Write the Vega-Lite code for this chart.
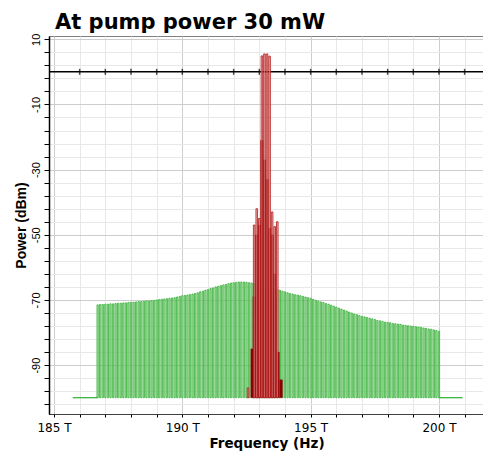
{
  "$schema": "https://vega.github.io/schema/vega-lite/v6.json",
  "width": 435,
  "height": 378,
  "autosize": "none",
  "padding": {"left": 49, "top": 36, "right": 0, "bottom": 40},
  "background": "white",
  "title": {
    "text": "At pump power 30 mW",
    "anchor": "start",
    "frame": "group",
    "font": "DejaVu Sans",
    "fontWeight": "bold",
    "fontSize": 21,
    "color": "black",
    "dx": 6,
    "dy": 25,
    "offset": 8,
    "baseline": "alphabetic"
  },
  "config": {
    "view": {"stroke": "black", "strokeDash": [1, 1], "strokeWidth": 1},
    "axis": {
      "labelColor": "black",
      "titleColor": "black",
      "tickColor": "black",
      "domainColor": "black",
      "labelOverlap": false,
      "labelFlush": false,
      "grid": true,
      "tickCount": 200
    }
  },
  "datasets": {
    "floor": [
      {"f0": 185.73, "f1": 186.7},
      {"f0": 200.0, "f1": 200.92}
    ],
    "zeroLine": [{"p": 0}],
    "zeroTicks": [
      {"f": 186}, {"f": 187}, {"f": 188}, {"f": 189}, {"f": 190}, {"f": 191}, {"f": 192}, {"f": 193},
      {"f": 194}, {"f": 195}, {"f": 196}, {"f": 197}, {"f": 198}, {"f": 199}, {"f": 200}, {"f": 201}
    ],
    "wdm": [
      {"f": 186.7, "p": -71.5}, {"f": 186.8, "p": -71.4}, {"f": 186.9, "p": -71.4}, {"f": 187.0, "p": -71.3},
      {"f": 187.1, "p": -71.3}, {"f": 187.2, "p": -71.2}, {"f": 187.3, "p": -71.2}, {"f": 187.4, "p": -71.1},
      {"f": 187.5, "p": -71.0}, {"f": 187.6, "p": -71.0}, {"f": 187.7, "p": -70.9}, {"f": 187.8, "p": -70.9},
      {"f": 187.9, "p": -70.8}, {"f": 188.0, "p": -70.7}, {"f": 188.1, "p": -70.7}, {"f": 188.2, "p": -70.6},
      {"f": 188.3, "p": -70.5}, {"f": 188.4, "p": -70.5}, {"f": 188.5, "p": -70.4}, {"f": 188.6, "p": -70.3},
      {"f": 188.7, "p": -70.3}, {"f": 188.8, "p": -70.2}, {"f": 188.9, "p": -70.1}, {"f": 189.0, "p": -70.0},
      {"f": 189.1, "p": -69.9}, {"f": 189.2, "p": -69.8}, {"f": 189.3, "p": -69.7}, {"f": 189.4, "p": -69.6},
      {"f": 189.5, "p": -69.5}, {"f": 189.6, "p": -69.4}, {"f": 189.7, "p": -69.3}, {"f": 189.8, "p": -69.1},
      {"f": 189.9, "p": -68.9}, {"f": 190.0, "p": -68.7}, {"f": 190.1, "p": -68.6}, {"f": 190.2, "p": -68.5},
      {"f": 190.3, "p": -68.3}, {"f": 190.4, "p": -68.2}, {"f": 190.5, "p": -68.0}, {"f": 190.6, "p": -67.8},
      {"f": 190.7, "p": -67.5}, {"f": 190.8, "p": -67.3}, {"f": 190.9, "p": -67.0}, {"f": 191.0, "p": -66.8},
      {"f": 191.1, "p": -66.5}, {"f": 191.2, "p": -66.3}, {"f": 191.3, "p": -66.0}, {"f": 191.4, "p": -65.8},
      {"f": 191.5, "p": -65.6}, {"f": 191.6, "p": -65.4}, {"f": 191.7, "p": -65.2}, {"f": 191.8, "p": -65.0},
      {"f": 191.9, "p": -64.8}, {"f": 192.0, "p": -64.7}, {"f": 192.1, "p": -64.6}, {"f": 192.2, "p": -64.5},
      {"f": 192.3, "p": -64.5}, {"f": 192.4, "p": -64.5}, {"f": 192.5, "p": -64.6}, {"f": 192.6, "p": -64.7},
      {"f": 192.7, "p": -64.8}, {"f": 192.8, "p": -65.0}, {"f": 192.9, "p": -65.1}, {"f": 193.0, "p": -65.3},
      {"f": 193.1, "p": -65.5}, {"f": 193.2, "p": -65.7}, {"f": 193.3, "p": -65.9}, {"f": 193.4, "p": -66.2},
      {"f": 193.5, "p": -66.4}, {"f": 193.6, "p": -66.6}, {"f": 193.7, "p": -66.8}, {"f": 193.8, "p": -67.0},
      {"f": 193.9, "p": -67.3}, {"f": 194.0, "p": -67.5}, {"f": 194.1, "p": -67.8}, {"f": 194.2, "p": -68.0},
      {"f": 194.3, "p": -68.2}, {"f": 194.4, "p": -68.4}, {"f": 194.5, "p": -68.5}, {"f": 194.6, "p": -68.7},
      {"f": 194.7, "p": -68.9}, {"f": 194.8, "p": -69.1}, {"f": 194.9, "p": -69.3}, {"f": 195.0, "p": -69.5},
      {"f": 195.1, "p": -69.8}, {"f": 195.2, "p": -70.1}, {"f": 195.3, "p": -70.4}, {"f": 195.4, "p": -70.6},
      {"f": 195.5, "p": -70.8}, {"f": 195.6, "p": -71.1}, {"f": 195.7, "p": -71.3}, {"f": 195.8, "p": -71.6},
      {"f": 195.9, "p": -71.9}, {"f": 196.0, "p": -72.2}, {"f": 196.1, "p": -72.5}, {"f": 196.2, "p": -72.8},
      {"f": 196.3, "p": -73.1}, {"f": 196.4, "p": -73.4}, {"f": 196.5, "p": -73.7}, {"f": 196.6, "p": -74.0},
      {"f": 196.7, "p": -74.3}, {"f": 196.8, "p": -74.5}, {"f": 196.9, "p": -74.8}, {"f": 197.0, "p": -75.0},
      {"f": 197.1, "p": -75.2}, {"f": 197.2, "p": -75.4}, {"f": 197.3, "p": -75.6}, {"f": 197.4, "p": -75.8},
      {"f": 197.5, "p": -76.0}, {"f": 197.6, "p": -76.3}, {"f": 197.7, "p": -76.4}, {"f": 197.8, "p": -76.6},
      {"f": 197.9, "p": -76.8}, {"f": 198.0, "p": -76.9}, {"f": 198.1, "p": -77.0}, {"f": 198.2, "p": -77.2},
      {"f": 198.3, "p": -77.3}, {"f": 198.4, "p": -77.4}, {"f": 198.5, "p": -77.5}, {"f": 198.6, "p": -77.7},
      {"f": 198.7, "p": -77.8}, {"f": 198.8, "p": -77.9}, {"f": 198.9, "p": -78.0}, {"f": 199.0, "p": -78.1},
      {"f": 199.1, "p": -78.2}, {"f": 199.2, "p": -78.3}, {"f": 199.3, "p": -78.4}, {"f": 199.4, "p": -78.6},
      {"f": 199.5, "p": -78.7}, {"f": 199.6, "p": -78.9}, {"f": 199.7, "p": -79.0}, {"f": 199.8, "p": -79.2},
      {"f": 199.9, "p": -79.4}, {"f": 200.0, "p": -79.6}
    ],
    "pumpBase": [
      {"f": 192.72, "p": -85},
      {"f": 192.8, "p": -69},
      {"f": 192.9, "p": -50},
      {"f": 193.0, "p": -47},
      {"f": 193.1, "p": -21},
      {"f": 193.2, "p": -27},
      {"f": 193.3, "p": -33},
      {"f": 193.4, "p": -48},
      {"f": 193.5, "p": -50},
      {"f": 193.6, "p": -62},
      {"f": 193.73, "p": -86},
      {"f": 193.85, "p": -94.5}
    ],
    "pumpPeaks": [
      {"f": 192.56, "p": -97},
      {"f": 192.8, "p": -47},
      {"f": 192.9, "p": -42},
      {"f": 193.0, "p": -45},
      {"f": 193.1, "p": 4.9},
      {"f": 193.2, "p": 5.5},
      {"f": 193.3, "p": 5.5},
      {"f": 193.4, "p": 4.8},
      {"f": 193.5, "p": -43},
      {"f": 193.6, "p": -47.5},
      {"f": 193.7, "p": -46}
    ]
  },
  "layer": [
    {
      "data": {"name": "floor"},
      "mark": {"type": "rule", "color": "#2eae2e", "strokeWidth": 1.2},
      "encoding": {
        "x": {
          "field": "f0",
          "type": "quantitative",
          "scale": {"domain": [185, 201.56], "nice": false, "zero": false},
          "axis": {
            "title": "Frequency (Hz)",
            "titleFont": "DejaVu Sans",
            "titleFontWeight": "bold",
            "titleFontSize": 13.5,
            "titlePadding": 3,
            "values": [185, 186, 187, 188, 189, 190, 191, 192, 193, 194, 195, 196, 197, 198, 199, 200, 201],
            "tickCount": 200,
            "labelExpr": "datum.value % 5 === 0 ? datum.value + ' T' : ''",
            "labelFont": "DejaVu Sans",
            "labelFontSize": 12,
            "labelPadding": 5,
            "labelFlush": false,
            "labelOverlap": false,
            "tickSize": 3,
            "domainDash": [1, 1],
            "grid": true,
            "gridColor": {"condition": {"test": "datum.value % 5 === 0", "value": "#cdcdcd"}, "value": "#e8e8e8"}
          }
        },
        "x2": {"field": "f1"},
        "y": {
          "datum": -100,
          "type": "quantitative",
          "scale": {"domain": [-105, 11], "nice": false, "zero": false},
          "axis": {
            "title": "Power (dBm)",
            "titleFont": "Liberation Sans",
            "titleFontWeight": "bold",
            "titleFontSize": 14,
            "titlePadding": 2,
            "values": [10, 6, 2, -2, -6, -10, -14, -18, -22, -26, -30, -34, -38, -42, -46, -50, -54, -58, -62, -66, -70, -74, -78, -82, -86, -90, -94, -98, -102],
            "tickCount": 200,
            "labelExpr": "(datum.value - 10) % 20 === 0 ? '' + datum.value : ''",
            "labelAngle": -90,
            "labelFont": "Liberation Sans",
            "labelFontSize": 11,
            "labelPadding": 3,
            "labelFlush": false,
            "labelOverlap": false,
            "tickSize": 5,
            "domainWidth": 1.5,
            "grid": true,
            "gridColor": {"condition": {"test": "(datum.value - 10) % 20 === 0", "value": "#cdcdcd"}, "value": "#e8e8e8"}
          }
        }
      }
    },
    {
      "data": {"name": "zeroLine"},
      "mark": {"type": "rule", "color": "black", "strokeWidth": 1.5},
      "encoding": {"y": {"field": "p", "type": "quantitative"}}
    },
    {
      "data": {"name": "zeroTicks"},
      "mark": {"type": "tick", "orient": "vertical", "color": "black", "size": 6, "thickness": 1.5},
      "encoding": {
        "x": {"field": "f", "type": "quantitative"},
        "y": {"datum": 0, "type": "quantitative"}
      }
    },
    {
      "data": {"name": "wdm"},
      "mark": {"type": "bar", "width": 1.3, "fill": "#cdebcd", "stroke": "#26aa26", "strokeWidth": 0.75},
      "encoding": {
        "x": {"field": "f", "type": "quantitative"},
        "y": {"field": "p", "type": "quantitative"},
        "y2": {"datum": -100}
      }
    },
    {
      "data": {"name": "pumpBase"},
      "mark": {"type": "bar", "width": 2.7, "fill": "#8b0000", "stroke": "#8b0000", "strokeWidth": 0.3},
      "encoding": {
        "x": {"field": "f", "type": "quantitative"},
        "y": {"field": "p", "type": "quantitative"},
        "y2": {"datum": -100}
      }
    },
    {
      "data": {"name": "pumpPeaks"},
      "mark": {"type": "bar", "width": 1.6, "fill": "#e2a0a0", "fillOpacity": 0.8, "stroke": "#b41818", "strokeWidth": 0.8},
      "encoding": {
        "x": {"field": "f", "type": "quantitative"},
        "y": {"field": "p", "type": "quantitative"},
        "y2": {"datum": -100}
      }
    }
  ]
}
